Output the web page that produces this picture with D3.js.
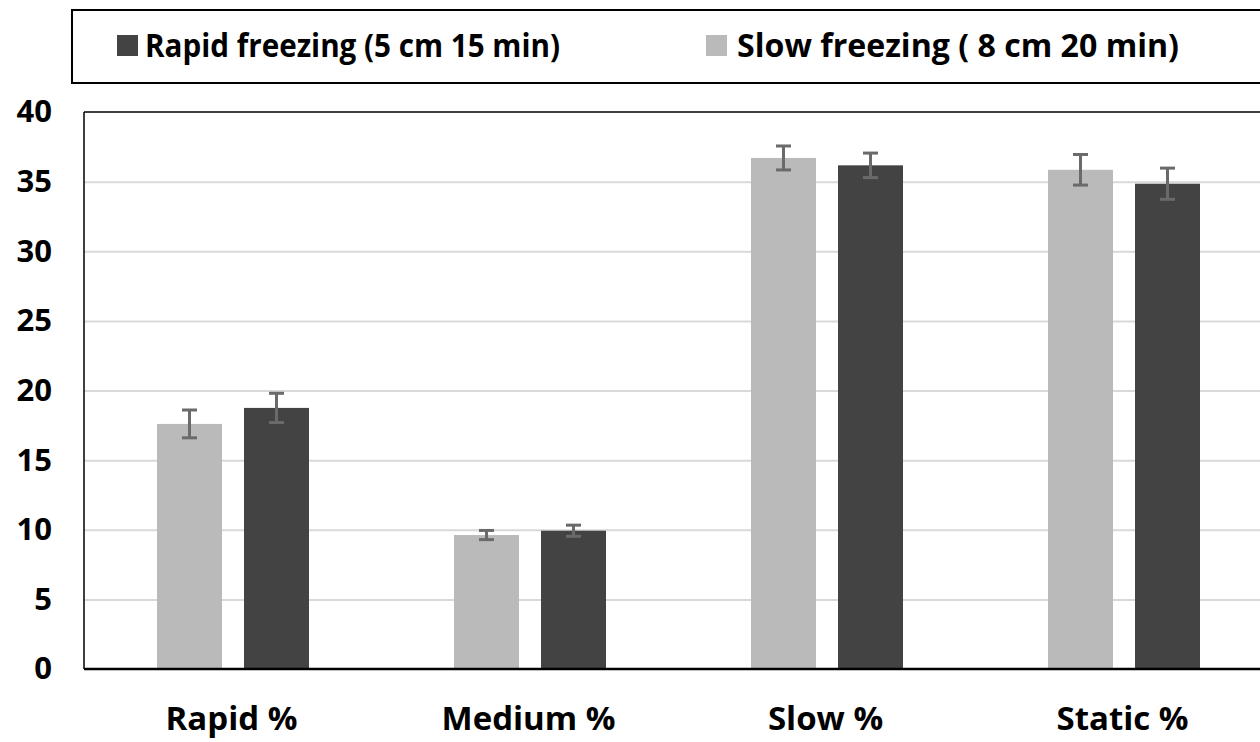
<!DOCTYPE html>
<html>
<head>
<meta charset="utf-8">
<script src="https://d3js.org/d3.v7.min.js"></script>
<style>
  body { margin: 0; background: #fff; }
  text { font-family: "Open Sans", "Noto Sans", sans-serif; font-weight: bold; fill: #000; }
</style>
</head>
<body>
<div id="chart"></div>
<script>
// categories and series (light bars are drawn first, as in the source)
const categories = ['Rapid %', 'Medium %', 'Slow %', 'Static %']
const seriesKeys = ['slow', 'rapid']
const seriesNames = { rapid: 'Rapid freezing (5 cm 15 min)', slow: 'Slow freezing ( 8 cm 20 min)' }
const slowValues = [17.6, 9.62, 36.7, 35.85]
const slowErrors = [1.0, 0.33, 0.86, 1.1]
const rapidValues = [18.75, 9.93, 36.17, 34.85]
const rapidErrors = [1.05, 0.4, 0.88, 1.12]
const yTicks = [0, 5, 10, 15, 20, 25, 30, 35, 40]

const colors = { slow: '#bababa', rapid: '#434343' }

const width = 1260
const height = 742
const plotLeft = 84
const plotRight = 1272
const plotTop = 112
const plotBottom = 669

const data = categories.map((c, i) => ({
  cat: c,
  slow: { v: slowValues[i], e: slowErrors[i] },
  rapid: { v: rapidValues[i], e: rapidErrors[i] }
}))

const svg = d3.select('#chart').append('svg')
  .attr('width', width)
  .attr('height', height)

const yScale = d3.scaleLinear().domain([0, 40]).range([plotBottom, plotTop])
const x0 = d3.scaleBand().domain(categories).range([plotLeft, plotRight])
const x1 = d3.scaleBand().domain(seriesKeys).range([73, 225]).paddingInner(0.253)

// gridlines
svg.append('g')
  .attr('transform', `translate(${plotLeft} 0)`)
  .call(d3.axisLeft(yScale).tickValues(yTicks.filter(d => d > 0 && d < 40)).tickSize(-(plotRight - plotLeft)).tickFormat(''))
  .call(g => g.select('.domain').remove())
  .call(g => g.selectAll('line').attr('stroke', '#d9d9d9').attr('stroke-width', 2))

// y tick labels
svg.append('g')
  .attr('transform', `translate(${plotLeft} 0)`)
  .call(d3.axisLeft(yScale).tickValues(yTicks).tickSize(0).tickPadding(32))
  .call(g => g.select('.domain').remove())
  .call(g => g.selectAll('text').attr('font-size', 31).attr('font-family', '"Open Sans", sans-serif').attr('font-weight', 'bold').attr('fill', '#000'))

// bars
const groups = svg.append('g').selectAll('g')
  .data(data)
  .join('g')
  .attr('transform', d => `translate(${x0(d.cat)} 0)`)

groups.selectAll('rect')
  .data(d => seriesKeys.map(k => ({ key: k, v: d[k].v, e: d[k].e })))
  .join('rect')
  .attr('x', d => x1(d.key))
  .attr('y', d => yScale(d.v))
  .attr('width', x1.bandwidth())
  .attr('height', d => yScale(0) - yScale(d.v))
  .attr('fill', d => colors[d.key])

// error bars
const errs = groups.selectAll('g.err')
  .data(d => seriesKeys.map(k => ({ key: k, v: d[k].v, e: d[k].e })))
  .join('g')
  .attr('class', 'err')
  .attr('stroke', '#6a6a6a')
  .attr('stroke-width', 3)

errs.append('line')
  .attr('x1', d => x1(d.key) + x1.bandwidth() / 2)
  .attr('x2', d => x1(d.key) + x1.bandwidth() / 2)
  .attr('y1', d => yScale(d.v + d.e))
  .attr('y2', d => yScale(d.v - d.e))
errs.selectAll('line.cap')
  .data(d => [{ d, s: 1 }, { d, s: -1 }])
  .join('line')
  .attr('class', 'cap')
  .attr('x1', o => x1(o.d.key) + x1.bandwidth() / 2 - 7.5)
  .attr('x2', o => x1(o.d.key) + x1.bandwidth() / 2 + 7.5)
  .attr('y1', o => yScale(o.d.v + o.s * o.d.e))
  .attr('y2', o => yScale(o.d.v + o.s * o.d.e))

// frame: top and left, bottom axis
svg.append('line').attr('x1', plotLeft).attr('x2', plotRight).attr('y1', plotTop).attr('y2', plotTop)
  .attr('stroke', '#000').attr('stroke-width', 1.5)
svg.append('line').attr('x1', plotLeft).attr('x2', plotLeft).attr('y1', plotTop).attr('y2', plotBottom)
  .attr('stroke', '#000').attr('stroke-width', 1.5)
svg.append('line').attr('x1', plotLeft).attr('x2', plotRight).attr('y1', plotBottom).attr('y2', plotBottom)
  .attr('stroke', '#000').attr('stroke-width', 2.5)

// x labels
svg.append('g')
  .attr('transform', `translate(0 ${plotBottom})`)
  .call(d3.axisBottom(x0).tickSize(0).tickPadding(38))
  .call(g => g.select('.domain').remove())
  .call(g => g.selectAll('text').attr('font-size', 33).attr('font-family', '"Open Sans", sans-serif').attr('font-weight', 'bold').attr('fill', '#000')
    .attr('dx', -1))

// legend
svg.append('rect')
  .attr('x', 72).attr('y', 10)
  .attr('width', 1200).attr('height', 73)
  .attr('fill', 'none').attr('stroke', '#000').attr('stroke-width', 2)

const legendItems = [
  { key: 'rapid', sx: 117, tx: 145, tw: 415 },
  { key: 'slow', sx: 706, tx: 737, tw: 442 }
]
const leg = svg.append('g').selectAll('g')
  .data(legendItems)
  .join('g')
leg.append('rect')
  .attr('x', d => d.sx).attr('y', 35)
  .attr('width', 21).attr('height', 21)
  .attr('fill', d => colors[d.key])
leg.append('text')
  .attr('x', d => d.tx).attr('y', 57)
  .attr('font-size', 32)
  .attr('textLength', d => d.tw)
  .attr('lengthAdjust', 'spacingAndGlyphs')
  .text(d => seriesNames[d.key])
</script>
</body>
</html>
